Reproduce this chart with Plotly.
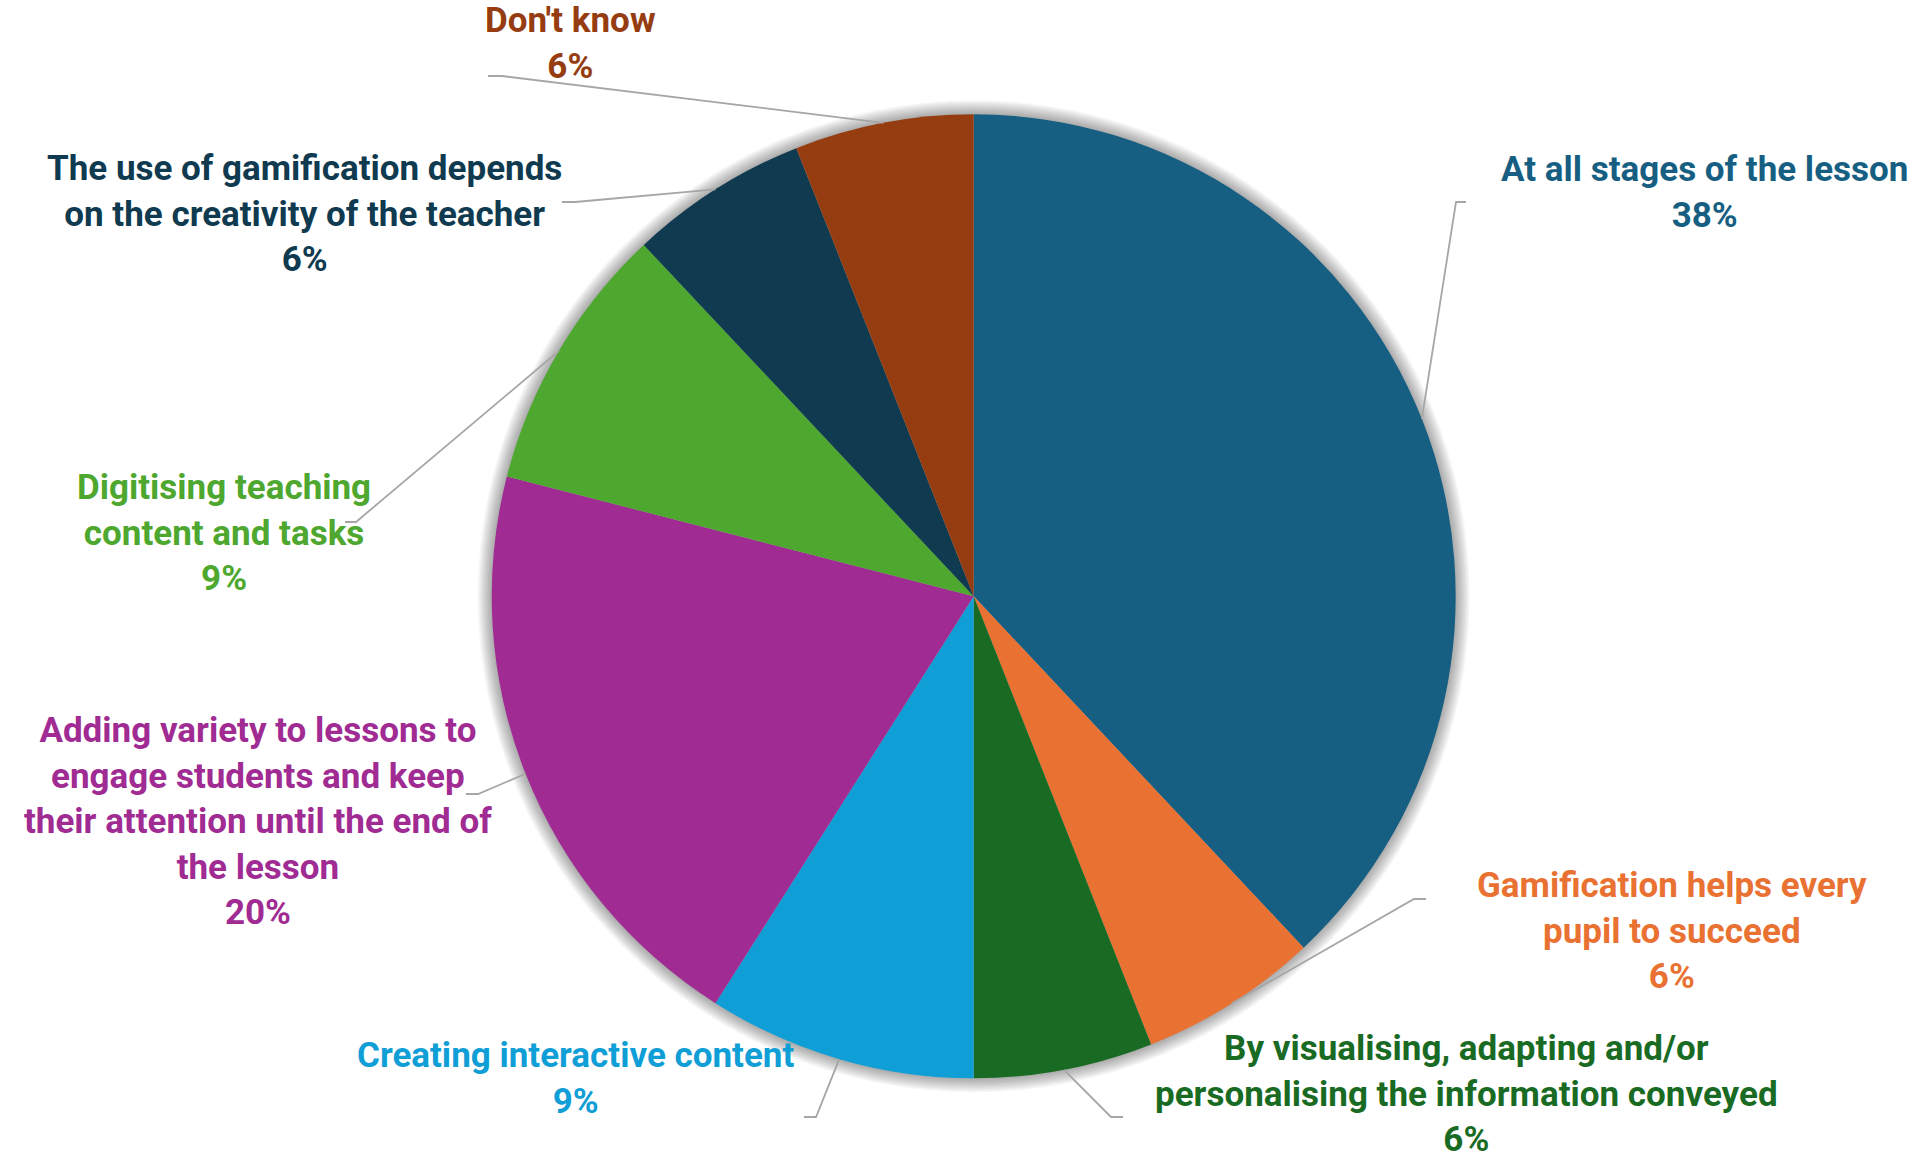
import math
import plotly.graph_objects as go

# Survey answers and their shares (percent)
categories = [
    "At all stages of the lesson",
    "Gamification helps every<br>pupil to succeed",
    "By visualising, adapting and/or<br>personalising the information conveyed",
    "Creating interactive content",
    "Adding variety to lessons to<br>engage students and keep<br>their attention until the end of<br>the lesson",
    "Digitising teaching<br>content and tasks",
    "The use of gamification depends<br>on the creativity of the teacher",
    "Don't know",
]
shares = [38, 6, 6, 9, 20, 9, 6, 6]

colors = ["#175F82", "#E97132", "#196B24", "#0F9ED5",
          "#A02B93", "#4EA72E", "#0F3A4F", "#963C11"]

W, H = 1924, 1159
CX, CY, R = 973.7, 596.3, 482.0

# label block centres and leader-line elbows / ends (pixels)
label_pos = [(1704, 192), (1672, 931), (1466, 1094), (575, 1078),
             (258, 821), (224, 533), (304, 214), (570, 44)]
elbows = [((1456, 202), (1466, 202)),
          ((1414, 899), (1426, 899)),
          ((1111, 1117), (1123, 1117)),
          ((816, 1117), (804, 1117)),
          ((478, 794), (466, 794)),
          ((356, 522), (345, 522)),
          ((575, 202), (562, 202)),
          ((502, 76), (488, 76))]


def px(x):
    return x / W


def py(y):
    return 1 - y / H


fig = go.Figure(go.Pie(
    labels=[c.replace("<br>", " ") for c in categories],
    values=shares,
    sort=False,
    direction="clockwise",
    rotation=0,
    marker=dict(colors=colors, line=dict(width=0)),
    textinfo="none",
    hoverinfo="label+percent",
    showlegend=False,
    domain=dict(x=[px(CX - R), px(CX + R)], y=[py(CY + R), py(CY - R)]),
))

shapes = []
# soft shadow around the pie
for k in range(1, 11):
    d = k * 1.4
    shapes.append(dict(
        type="circle", xref="paper", yref="paper", layer="below",
        x0=px(CX - R - d), x1=px(CX + R + d),
        y0=py(CY + R + d), y1=py(CY - R - d),
        fillcolor="rgba(0,0,0,0.035)", line=dict(width=0),
    ))

total = sum(shares)
cum = 0
annotations = []
for i, (cat, v) in enumerate(zip(categories, shares)):
    mid = (cum + v / 2) / total * 2 * math.pi
    cum += v
    sx = CX + R * math.sin(mid)
    sy = CY - R * math.cos(mid)
    (ex, ey), (tx, ty) = elbows[i]
    shapes.append(dict(
        type="path", xref="paper", yref="paper", layer="above",
        path=f"M {px(sx)} {py(sy)} L {px(ex)} {py(ey)} L {px(tx)} {py(ty)}",
        line=dict(color="#A6A6A6", width=1.8),
    ))
    lx, ly = label_pos[i]
    pct = round(v / total * 100)
    annotations.append(dict(
        x=px(lx), y=py(ly), xref="paper", yref="paper",
        xanchor="center", yanchor="middle", align="center",
        showarrow=False,
        text=f"{cat}<br>{pct}%",
        font=dict(family="Roboto", size=35, color=colors[i], weight="bold"),
    ))

fig.update_layout(
    width=W, height=H,
    margin=dict(l=0, r=0, t=0, b=0),
    paper_bgcolor="white", plot_bgcolor="white",
    shapes=shapes, annotations=annotations,
)

fig.write_html("out.html")
